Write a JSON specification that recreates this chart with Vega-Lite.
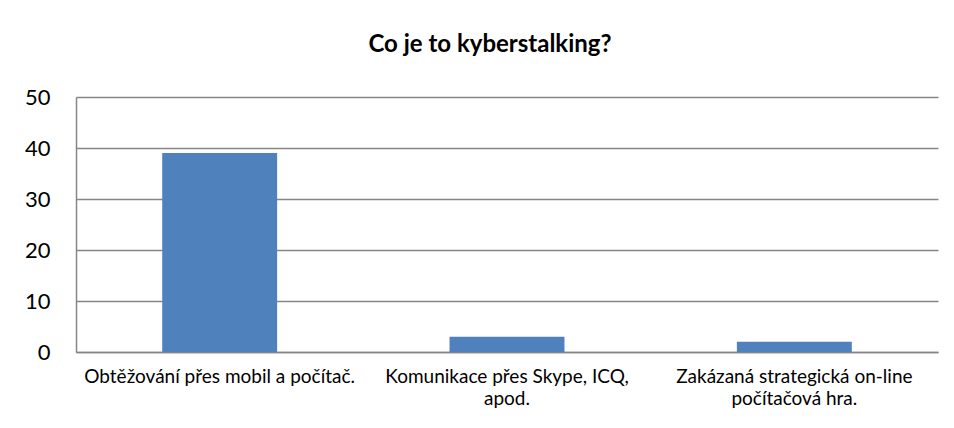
{
  "$schema": "https://vega.github.io/schema/vega-lite/v6.json",
  "width": 862,
  "height": 255,
  "autosize": {"type": "none"},
  "padding": {"left": 76, "top": 97, "right": 16, "bottom": 76},
  "background": "white",
  "title": {
    "text": "Co je to kyberstalking?",
    "font": "Lato",
    "fontSize": 24,
    "fontWeight": "bold",
    "color": "#000000",
    "anchor": "middle",
    "dx": -17,
    "offset": 29
  },
  "data": {
    "values": [
      {"odpoved": "Obtěžování přes mobil a počítač.", "pocet": 39},
      {"odpoved": "Komunikace přes Skype, ICQ, apod.", "pocet": 3},
      {"odpoved": "Zakázaná strategická on-line počítačová hra.", "pocet": 2}
    ]
  },
  "mark": {"type": "bar", "color": "#4f81bd"},
  "encoding": {
    "x": {
      "field": "odpoved",
      "type": "nominal",
      "sort": null,
      "scale": {"paddingInner": 0.6, "paddingOuter": 0.3},
      "axis": {
        "title": null,
        "labelAngle": 0,
        "ticks": false,
        "labelFont": "Lato",
        "labelFontSize": 19,
        "labelColor": "#000000",
        "labelPadding": 15,
        "labelLineHeight": 22,
        "labelLimit": 400,
        "domainColor": "#868686",
        "domainWidth": 1.5,
        "labelExpr": "datum.value == 'Komunikace přes Skype, ICQ, apod.' ? ['Komunikace přes Skype, ICQ,', 'apod.'] : datum.value == 'Zakázaná strategická on-line počítačová hra.' ? ['Zakázaná strategická on-line', 'počítačová hra.'] : datum.value"
      }
    },
    "y": {
      "field": "pocet",
      "type": "quantitative",
      "scale": {"domain": [0, 50]},
      "axis": {
        "title": null,
        "values": [0, 10, 20, 30, 40, 50],
        "ticks": false,
        "labelFont": "Lato",
        "labelFontSize": 22,
        "labelColor": "#000000",
        "labelPadding": 26,
        "domainColor": "#868686",
        "domainWidth": 1.5,
        "gridColor": "#868686",
        "gridWidth": 1.5
      }
    }
  },
  "config": {"view": {"stroke": null}}
}
